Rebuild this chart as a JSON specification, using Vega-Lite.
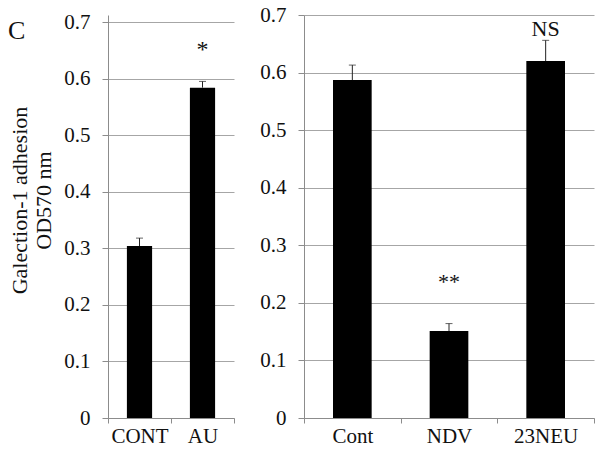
{
  "$schema": "https://vega.github.io/schema/vega-lite/v6.json",
  "padding": {"left": 8, "top": 4, "right": 5, "bottom": 0},
  "background": "white",
  "spacing": 24,
  "config": {
    "view": {"stroke": null},
    "font": "Liberation Serif",
    "axis": {
      "labelFont": "Liberation Serif",
      "labelFontSize": 21,
      "labelColor": "#111",
      "titleFont": "Liberation Serif",
      "titleFontWeight": "normal",
      "titleColor": "#111",
      "domain": true,
      "ticks": true,
      "domainColor": "#8c8c8c",
      "domainWidth": 1,
      "domainOpacity": 1,
      "tickColor": "#8c8c8c",
      "tickWidth": 1,
      "tickOpacity": 1,
      "gridColor": "#a6a6a6",
      "gridWidth": 1,
      "gridOpacity": 1
    }
  },
  "datasets": {
    "left": [
      {"group": "CONT", "value": 0.304, "upper": 0.318, "sig": "", "sig_y": 0.0},
      {"group": "AU", "value": 0.584, "upper": 0.595, "sig": "*", "sig_y": 0.65}
    ],
    "right": [
      {"group": "Cont", "value": 0.587, "upper": 0.613, "sig": "", "sig_y": 0.0},
      {"group": "NDV", "value": 0.151, "upper": 0.164, "sig": "**", "sig_y": 0.236},
      {"group": "23NEU", "value": 0.62, "upper": 0.656, "sig": "NS", "sig_y": 0.676}
    ]
  },
  "hconcat": [
    {
      "width": 126,
      "height": 403,
      "title": {"text": "C", "anchor": "start", "frame": "group", "font": "Liberation Serif", "fontSize": 26, "fontWeight": "normal", "color": "#111", "dx": -100, "dy": 3, "offset": -51, "baseline": "alphabetic"},
      "data": {"name": "left"},
      "encoding": {
        "x": {
          "field": "group", "type": "nominal", "sort": null,
          "scale": {"paddingInner": 0, "paddingOuter": 0},
          "axis": {"title": null, "labelAngle": 0, "tickBand": "extent", "tickSize": 5, "labelPadding": 2, "domain": true, "ticks": true, "grid": false}
        }
      },
      "layer": [
        {
          "mark": {"type": "bar", "color": "black", "width": {"band": 0.4}},
          "encoding": {
            "y": {
              "field": "value", "type": "quantitative",
              "scale": {"domain": [0, 0.7124], "nice": false},
              "axis": {
                "title": ["Galection-1 adhesion", "OD570 nm"],
                "titleFontSize": 22,
                "titleLineHeight": 24,
                "titlePadding": 8,
                "titleY": 185,
                "values": [0, 0.1, 0.2, 0.3, 0.4, 0.5, 0.6, 0.7],
                "format": "~g",
                "tickSize": 6,
                "labelPadding": 12,
                "domain": true,
                "ticks": true,
                "grid": true
              }
            }
          }
        },
        {
          "mark": {"type": "rule", "color": "#222", "strokeWidth": 1},
          "encoding": {"y": {"field": "value", "type": "quantitative"}, "y2": {"field": "upper"}}
        },
        {
          "mark": {"type": "tick", "color": "#222", "thickness": 1, "size": 7},
          "encoding": {"y": {"field": "upper", "type": "quantitative"}}
        },
        {
          "mark": {"type": "text", "font": "Liberation Serif", "fontSize": 24, "baseline": "middle", "color": "#111"},
          "encoding": {"y": {"field": "sig_y", "type": "quantitative"}, "text": {"field": "sig"}}
        }
      ]
    },
    {
      "width": 290,
      "height": 403,
      "data": {"name": "right"},
      "encoding": {
        "x": {
          "field": "group", "type": "nominal", "sort": null,
          "scale": {"paddingInner": 0, "paddingOuter": 0},
          "axis": {"title": null, "labelAngle": 0, "tickBand": "extent", "tickSize": 5, "labelPadding": 2, "domain": true, "ticks": true, "grid": false}
        }
      },
      "layer": [
        {
          "mark": {"type": "bar", "color": "black", "width": {"band": 0.4}},
          "encoding": {
            "y": {
              "field": "value", "type": "quantitative",
              "scale": {"domain": [0, 0.7], "nice": false},
              "axis": {
                "title": null,
                "values": [0, 0.1, 0.2, 0.3, 0.4, 0.5, 0.6, 0.7],
                "format": "~g",
                "tickSize": 6,
                "labelPadding": 12,
                "domain": true,
                "ticks": true,
                "grid": true
              }
            }
          }
        },
        {
          "mark": {"type": "rule", "color": "#222", "strokeWidth": 1},
          "encoding": {"y": {"field": "value", "type": "quantitative"}, "y2": {"field": "upper"}}
        },
        {
          "mark": {"type": "tick", "color": "#222", "thickness": 1, "size": 7},
          "encoding": {"y": {"field": "upper", "type": "quantitative"}}
        },
        {
          "mark": {"type": "text", "font": "Liberation Serif", "fontSize": 22, "baseline": "middle", "color": "#111"},
          "encoding": {"y": {"field": "sig_y", "type": "quantitative"}, "text": {"field": "sig"}}
        }
      ]
    }
  ]
}
